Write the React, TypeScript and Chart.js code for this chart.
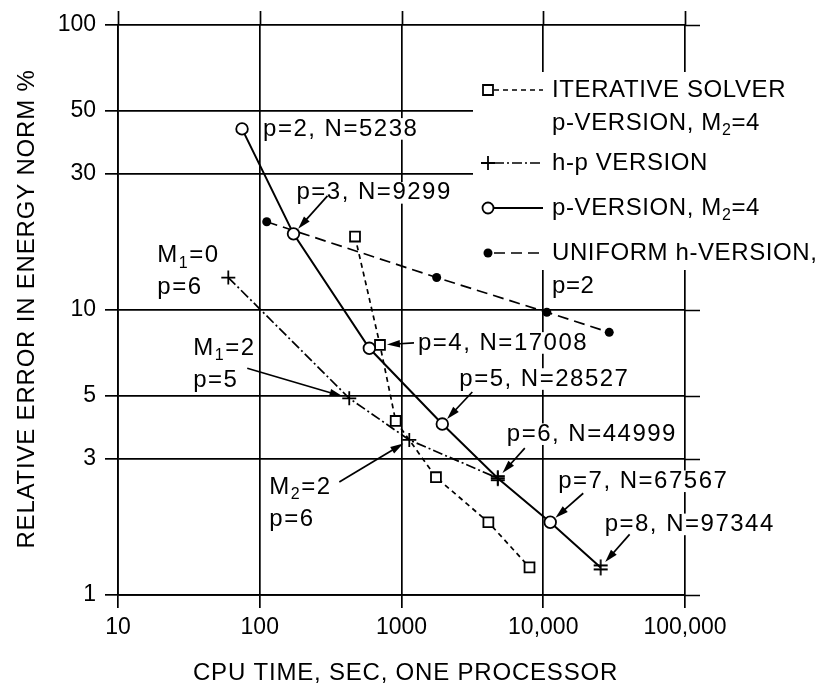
import React, { useEffect, useRef } from 'react';
import { Chart, registerables } from 'chart.js';

Chart.register(...registerables);

const FONT = '"Liberation Sans", Arial, Helvetica, sans-serif';

// Axis ticks
const xTicks = [10, 100, 1000, 10000, 100000];
const xTickLabels = ['10', '100', '1000', '10,000', '100,000'];
const yTicks = [1, 3, 5, 10, 30, 50, 100];
const yTickLabels = ['1', '3', '5', '10', '30', '50', '100'];

// Series: ITERATIVE SOLVER p-VERSION, M2=4
const iterTime = [470, 705, 910, 1750, 4100, 8000];
const iterErr = [18.1, 7.54, 4.08, 2.59, 1.8, 1.25];
// Series: h-p VERSION
const hpTime = [60, 428, 1135, 4780];
const hpErr = [13.0, 4.9, 3.5, 2.57];
// Series: p-VERSION, M2=4
const pTime = [75, 173, 593, 1940, 4780, 11200, 25400];
const pErr = [43.2, 18.5, 7.34, 3.98, 2.57, 1.8, 1.25];
// Series: UNIFORM h-VERSION, p=2
const uniTime = [112, 1770, 10600, 29200];
const uniErr = [20.4, 13.0, 9.82, 8.35];

const xTitle = 'CPU TIME, SEC, ONE PROCESSOR';
const yTitle = 'RELATIVE ERROR IN ENERGY NORM %';

// Annotations anchored to data points (dataset index, point index), offsets in px
const annotations = [
  { ds: 2, i: 0, lines: ['p=2, N=5238'], dx: 21, dy: 0 },
  { ds: 2, i: 1, lines: ['p=3, N=9299'], dx: 3, dy: -41, arrow: [34, -38] },
  { ds: 0, i: 1, lines: ['p=4, N=17008'], dx: 38, dy: -2, arrow: [34, -2] },
  { ds: 2, i: 3, lines: ['p=5, N=28527'], dx: 17, dy: -45, arrow: [30, -32] },
  { ds: 2, i: 4, lines: ['p=6, N=44999'], dx: 9, dy: -44, arrow: [27, -30] },
  { ds: 2, i: 5, lines: ['p=7, N=67567'], dx: 8, dy: -41, arrow: [33, -29] },
  { ds: 2, i: 6, lines: ['p=8, N=97344'], dx: 4, dy: -43, arrow: [29, -33] },
  { ds: 1, i: 0, lines: ['M_1=0', 'p=6'], dx: -71, dy: -22 },
  { ds: 1, i: 1, lines: ['M_1=2', 'p=5'], dx: -156, dy: -50, arrow: [-102, -30] },
  { ds: 1, i: 2, lines: ['M_2=2', 'p=6'], dx: -140, dy: 47, arrow: [-70, 42] },
];

const legendRows = [
  { ds: 0, marker: 'square', lines: ['ITERATIVE SOLVER', 'p-VERSION, M_2=4'] },
  { ds: 1, marker: 'cross', lines: ['h-p VERSION'] },
  { ds: 2, marker: 'circle', lines: ['p-VERSION, M_2=4'] },
  { ds: 3, marker: 'dot', lines: ['UNIFORM h-VERSION,', 'p=2'] },
];

function setFont(ctx: CanvasRenderingContext2D, size: number, spacing: number) {
  ctx.font = `${size}px ${FONT}`;
  try {
    (ctx as any).letterSpacing = `${spacing}px`;
  } catch (e) {}
}

function richWidth(ctx: CanvasRenderingContext2D, text: string, size: number, spacing: number) {
  const parts = text.split(/_(\d)/);
  let w = 0;
  parts.forEach((p, k) => {
    const sub = k % 2 === 1;
    setFont(ctx, sub ? Math.round(size * 0.68) : size, spacing);
    w += ctx.measureText(p).width;
  });
  return w;
}

function drawRich(ctx: CanvasRenderingContext2D, text: string, x: number, y: number, size: number, spacing: number) {
  const parts = text.split(/_(\d)/);
  let cx = x;
  ctx.textAlign = 'left';
  ctx.textBaseline = 'middle';
  ctx.fillStyle = '#000';
  parts.forEach((p, k) => {
    const sub = k % 2 === 1;
    setFont(ctx, sub ? Math.round(size * 0.68) : size, spacing);
    ctx.fillText(p, cx, sub ? y + size * 0.32 : y);
    cx += ctx.measureText(p).width;
  });
}

function drawArrow(ctx: CanvasRenderingContext2D, x1: number, y1: number, x2: number, y2: number) {
  const a = Math.atan2(y2 - y1, x2 - x1);
  const L = 13;
  const W = 3.8;
  const c = Math.cos(a);
  const s = Math.sin(a);
  ctx.save();
  ctx.strokeStyle = '#000';
  ctx.fillStyle = '#000';
  ctx.lineWidth = 1.7;
  ctx.setLineDash([]);
  ctx.beginPath();
  ctx.moveTo(x1, y1);
  ctx.lineTo(x2 - L * 0.7 * c, y2 - L * 0.7 * s);
  ctx.stroke();
  ctx.beginPath();
  ctx.moveTo(x2, y2);
  ctx.lineTo(x2 - L * c + W * s, y2 - L * s - W * c);
  ctx.lineTo(x2 - L * c - W * s, y2 - L * s + W * c);
  ctx.closePath();
  ctx.fill();
  ctx.restore();
}

function drawMarker(ctx: CanvasRenderingContext2D, kind: string, x: number, y: number) {
  ctx.save();
  ctx.setLineDash([]);
  ctx.strokeStyle = '#000';
  ctx.lineWidth = 1.8;
  ctx.beginPath();
  if (kind === 'square') {
    ctx.fillStyle = '#fff';
    ctx.rect(x - 5, y - 5, 10, 10);
    ctx.fill();
    ctx.stroke();
  } else if (kind === 'cross') {
    ctx.moveTo(x - 7, y);
    ctx.lineTo(x + 7, y);
    ctx.moveTo(x, y - 7);
    ctx.lineTo(x, y + 7);
    ctx.stroke();
  } else if (kind === 'circle') {
    ctx.fillStyle = '#fff';
    ctx.arc(x, y, 5.5, 0, Math.PI * 2);
    ctx.fill();
    ctx.stroke();
  } else {
    ctx.fillStyle = '#000';
    ctx.arc(x, y, 4.5, 0, Math.PI * 2);
    ctx.fill();
  }
  ctx.restore();
}

const pts = (xs: number[], ys: number[]) => xs.map((x, i) => ({ x, y: ys[i] }));

export default function App() {
  const ref = useRef<HTMLCanvasElement>(null);

  useEffect(() => {
    const canvas = ref.current;
    if (!canvas) return;

    // double-barred cross marker used where h-p and p-version coincide
    const mark = document.createElement('canvas');
    mark.width = 18;
    mark.height = 18;
    const m = mark.getContext('2d')!;
    m.strokeStyle = '#000';
    m.lineWidth = 1.8;
    m.beginPath();
    m.moveTo(9, 1);
    m.lineTo(9, 17);
    m.moveTo(2, 7);
    m.lineTo(16, 7);
    m.moveTo(2, 11);
    m.lineTo(16, 11);
    m.stroke();

    const pStyles = pTime.map((_, i) => (i === 4 || i === 6 ? mark : 'circle'));

    const overlay = {
      id: 'overlay',
      beforeDatasetsDraw(chart: any) {
        const ctx: CanvasRenderingContext2D = chart.ctx;
        const area = chart.chartArea;
        const xs = chart.scales.x;
        const ys = chart.scales.y;
        ctx.save();
        // gridline extensions beyond the frame (top and right)
        ctx.strokeStyle = '#000';
        ctx.lineWidth = 1.7;
        ctx.beginPath();
        xTicks.forEach((v) => {
          const px = Math.round(xs.getPixelForValue(v)) + 0.5;
          ctx.moveTo(px, area.top - 14);
          ctx.lineTo(px, area.top);
        });
        yTicks.forEach((v) => {
          const py = Math.round(ys.getPixelForValue(v)) + 0.5;
          ctx.moveTo(area.right, py);
          ctx.lineTo(area.right + 15, py);
        });
        ctx.stroke();

        // annotations
        const size = 24;
        const spacing = 1.5;
        annotations.forEach((a) => {
          const el = chart.getDatasetMeta(a.ds).data[a.i];
          const px = el.x;
          const py = el.y;
          a.lines.forEach((line, k) => {
            const tx = px + a.dx;
            const ty = py + a.dy + k * 32;
            const w = richWidth(ctx, line, size, spacing);
            ctx.fillStyle = '#fff';
            ctx.fillRect(tx - 2, ty - size * 0.45, w + 2, size * 0.9);
            drawRich(ctx, line, tx, ty, size, spacing);
          });
          if (a.arrow) {
            const ax = px + a.arrow[0];
            const ay = py + a.arrow[1];
            const d = Math.hypot(ax - px, ay - py);
            const gap = 7;
            drawArrow(ctx, ax, ay, px + ((ax - px) / d) * gap, py + ((ay - py) / d) * gap);
          }
        });

        // legend
        const boxL = area.right - 212;
        const boxT = area.top + 47;
        ctx.fillStyle = '#fff';
        ctx.fillRect(boxL, boxT, chart.width - boxL, 198);
        const rowY = [area.top + 65, area.top + 138, area.top + 183, area.top + 228];
        const mx = area.right - 197;
        const lineEnd = area.right - 142;
        const textX = area.right - 133;
        legendRows.forEach((r, idx) => {
          const ds = chart.data.datasets[r.ds];
          const y = rowY[idx];
          ctx.save();
          ctx.strokeStyle = '#000';
          ctx.lineWidth = ds.borderWidth;
          ctx.setLineDash(ds.borderDash || []);
          ctx.beginPath();
          ctx.moveTo(mx + 6, y);
          ctx.lineTo(lineEnd, y);
          ctx.stroke();
          ctx.restore();
          drawMarker(ctx, r.marker, mx, y);
          r.lines.forEach((line, k) => {
            drawRich(ctx, line, textX, y + k * 33, 24, 0.6);
          });
        });

        // axis titles
        setFont(ctx, 24, 0.8);
        ctx.fillStyle = '#000';
        ctx.textAlign = 'center';
        ctx.textBaseline = 'middle';
        ctx.fillText(xTitle, (area.left + area.right) / 2 + 4, area.bottom + 78);
        ctx.save();
        ctx.translate(19, (area.top + area.bottom) / 2 - 1);
        ctx.rotate(-Math.PI / 2);
        ctx.fillText(yTitle, 0, 0);
        ctx.restore();
        setFont(ctx, 24, 0);
        ctx.restore();
      },
    };

    const tickFont = { family: FONT, size: 23 };

    const chart = new Chart(canvas, {
      type: 'line',
      data: {
        datasets: [
          {
            label: 'ITERATIVE SOLVER p-VERSION, M2=4',
            data: pts(iterTime, iterErr),
            borderColor: '#000',
            borderWidth: 1.7,
            borderDash: [5, 4],
            pointStyle: 'rect',
            pointRadius: 7,
            pointBackgroundColor: '#fff',
            pointBorderColor: '#000',
            pointBorderWidth: 1.8,
            order: 2,
          },
          {
            label: 'h-p VERSION',
            data: pts(hpTime, hpErr),
            borderColor: '#000',
            borderWidth: 1.7,
            borderDash: [10, 3, 2, 3],
            pointStyle: 'cross',
            pointRadius: 7,
            pointBorderColor: '#000',
            pointBorderWidth: 1.8,
            order: 1,
          },
          {
            label: 'p-VERSION, M2=4',
            data: pts(pTime, pErr),
            borderColor: '#000',
            borderWidth: 2,
            pointStyle: pStyles as any,
            pointRadius: 5.8,
            pointBackgroundColor: '#fff',
            pointBorderColor: '#000',
            pointBorderWidth: 1.8,
            order: 0,
          },
          {
            label: 'UNIFORM h-VERSION, p=2',
            data: pts(uniTime, uniErr),
            borderColor: '#000',
            borderWidth: 1.7,
            borderDash: [11, 6],
            pointStyle: 'circle',
            pointRadius: 4.5,
            pointBackgroundColor: '#000',
            pointBorderColor: '#000',
            pointBorderWidth: 0,
            order: 3,
          },
        ],
      },
      options: {
        responsive: false,
        animation: false,
        events: [],
        layout: { padding: { top: 17, right: 132, left: 0, bottom: 0 } },
        plugins: { legend: { display: false }, tooltip: { enabled: false } },
        elements: { line: { tension: 0 } },
        scales: {
          x: {
            type: 'logarithmic',
            min: 10,
            max: 100000,
            afterBuildTicks: (s: any) => {
              s.ticks = xTicks.map((v) => ({ value: v }));
            },
            afterFit: (s: any) => {
              s.height = 88;
              s.paddingLeft = 0;
              s.paddingRight = 0;
              s.paddingTop = 0;
              s.paddingBottom = 0;
            },
            ticks: {
              callback: (_v: any, i: number) => xTickLabels[i],
              font: tickFont,
              color: '#000',
              padding: 6,
              autoSkip: false,
              maxRotation: 0,
              minRotation: 0,
            },
            grid: { color: '#000', lineWidth: 1.7, tickLength: 13, drawTicks: true },
            border: { color: '#000', width: 1.7 },
          },
          y: {
            type: 'logarithmic',
            min: 1,
            max: 100,
            afterBuildTicks: (s: any) => {
              s.ticks = yTicks.map((v) => ({ value: v }));
            },
            afterFit: (s: any) => {
              s.width = 110;
              s.paddingLeft = 0;
              s.paddingRight = 0;
              s.paddingTop = 0;
              s.paddingBottom = 0;
            },
            ticks: {
              callback: (_v: any, i: number) => yTickLabels[i],
              font: tickFont,
              color: '#000',
              padding: 9,
              autoSkip: false,
            },
            grid: { color: '#000', lineWidth: 1.7, tickLength: 13, drawTicks: true },
            border: { color: '#000', width: 1.7 },
          },
        },
      },
      plugins: [overlay],
    } as any);

    return () => chart.destroy();
  }, []);

  return <canvas ref={ref} width={809} height={675} style={{ display: 'block' }} />;
}
